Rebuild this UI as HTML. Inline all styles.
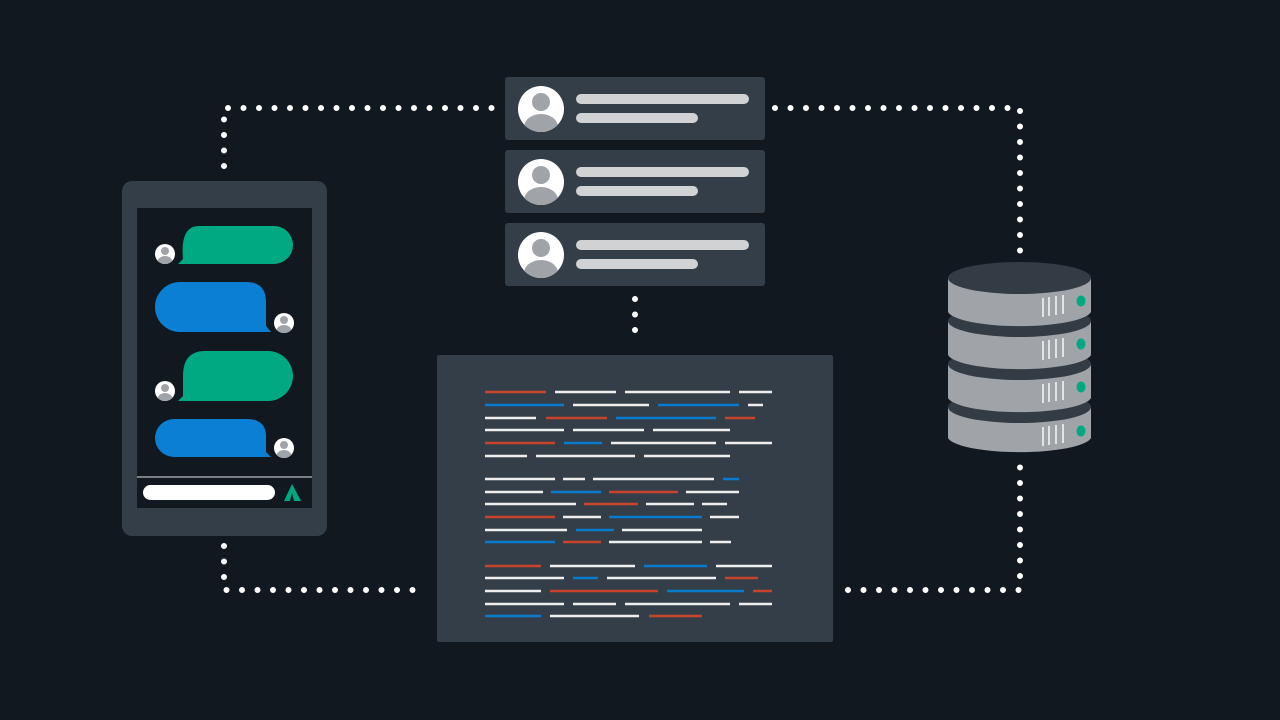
<!DOCTYPE html>
<html><head><meta charset="utf-8"><style>html,body{margin:0;padding:0;background:#111820;}svg{display:block}</style></head>
<body>
<svg width="1280" height="720" viewBox="0 0 1280 720" xmlns="http://www.w3.org/2000/svg">
<defs>
<clipPath id="av"><circle cx="0" cy="0" r="23"/></clipPath>
<clipPath id="avs"><circle cx="0" cy="0" r="10"/></clipPath>
<g id="avatar"><circle r="23" fill="#fff"/><g clip-path="url(#av)"><circle cx="0" cy="-7" r="9" fill="#a0a3a8"/><ellipse cx="0" cy="18" rx="17" ry="13" fill="#a0a3a8"/></g></g>
<g id="savatar"><circle r="10" fill="#fff"/><g clip-path="url(#avs)"><circle cx="0" cy="-3" r="4" fill="#a0a3a8"/><ellipse cx="0" cy="8" rx="7.5" ry="6" fill="#a0a3a8"/></g></g>
</defs>
<rect width="1280" height="720" fill="#111820"/>
<g stroke="#fff" stroke-width="6" stroke-linecap="round" stroke-dasharray="0 15.5" fill="none">
<path d="M224 166 L224 108 L496 108"/>
<path d="M775 108 L1020 108 L1020 251"/>
<path d="M224 546 L224 590 L428 590"/>
<path d="M848 590 L1020 590 L1020 463"/>
<path d="M635 299 L635 344"/>
</g>
<g>
<rect x="505" y="77" width="260" height="63" rx="3" fill="#333e48"/>
<rect x="505" y="150" width="260" height="63" rx="3" fill="#333e48"/>
<rect x="505" y="223" width="260" height="63" rx="3" fill="#333e48"/>
<use href="#avatar" x="541" y="109"/><use href="#avatar" x="541" y="182"/><use href="#avatar" x="541" y="255"/>
<g stroke="#d0d2d4" stroke-width="10" stroke-linecap="round">
<line x1="581" y1="99" x2="744" y2="99"/><line x1="581" y1="118" x2="693" y2="118"/>
<line x1="581" y1="172" x2="744" y2="172"/><line x1="581" y1="191" x2="693" y2="191"/>
<line x1="581" y1="245" x2="744" y2="245"/><line x1="581" y1="264" x2="693" y2="264"/>
</g>
</g>
<rect x="122" y="181" width="205" height="355" rx="10" fill="#333e48"/>
<rect x="137" y="208" width="175" height="300" fill="#111820"/>
<line x1="137" y1="477" x2="312" y2="477" stroke="#a0a3a8" stroke-width="1.5"/>
<rect x="143" y="485" width="132" height="15" rx="7.5" fill="#fff"/>
<polygon points="292,484 284,501 290,501 292,493 294,501 301,501" fill="#00a982"/>
<path d="M199 226 H274 A19 19 0 0 1 274 264 H178 L183 259 Q180 226 199 226 Z" fill="#00a982"/>
<path d="M180 282 H246 Q266 282 266 302 V326 L271 332 H180 A25 25 0 0 1 180 282 Z" fill="#0a7fd4"/>
<path d="M205 351 H268 A25 25 0 0 1 268 401 H178 L183 396 V376 Q183 351 205 351 Z" fill="#00a982"/>
<path d="M174 419 H246 Q266 419 266 436 V452 L271 457 H174 A19 19 0 0 1 174 419 Z" fill="#0a7fd4"/>
<use href="#savatar" x="165" y="254"/><use href="#savatar" x="284" y="323"/>
<use href="#savatar" x="165" y="391"/><use href="#savatar" x="284" y="448"/>
<rect x="437" y="355" width="396" height="287" rx="2" fill="#333e48"/>
<g stroke-width="2.5" fill="none">
<g stroke="#c8432b">
<path d="M485 392H546M485 443H555M546 418H607M725 418H755M609 492H678M584 504H638M485 517H555M563 542H601M485 566H541M725 578H758M550 591H658M753 591H772M649 616H702"/>
</g>
<g stroke="#0a7acc">
<path d="M485 405H564M658 405H739M616 418H716M564 443H602M723 479H739M551 492H601M609 517H702M576 530H614M485 542H555M644 566H707M573 578H598M667 591H744M485 616H541"/>
</g>
<g stroke="#eeeeee">
<path d="M555 392H616M625 392H730M739 392H772M573 405H649M748 405H763M485 418H536M485 430H564M573 430H644M653 430H730M611 443H716M725 443H772M485 456H527M536 456H635M644 456H730"/>
<path d="M485 479H555M563 479H585M593 479H714M485 492H543M686 492H739M485 504H576M646 504H694M702 504H727M563 517H601M710 517H739M485 530H567M622 530H702M609 542H702M710 542H731"/>
<path d="M550 566H635M716 566H772M485 578H564M607 578H716M485 591H541M485 604H564M573 604H616M625 604H730M739 604H772M550 616H639"/>
</g>
</g>
<g>
<path d="M948 407 V438 A72 16 0 0 0 1091 438 V407 Z" fill="#a0a3a8"/><ellipse cx="1019.5" cy="407" rx="71.5" ry="16" fill="#333b44"/>
<path d="M948 364 V398 A72 16 0 0 0 1091 398 V364 Z" fill="#a0a3a8"/><ellipse cx="1019.5" cy="364" rx="71.5" ry="16" fill="#333b44"/>
<path d="M948 321 V355 A72 16 0 0 0 1091 355 V321 Z" fill="#a0a3a8"/><ellipse cx="1019.5" cy="321" rx="71.5" ry="16" fill="#333b44"/>
<path d="M948 278 V312 A72 16 0 0 0 1091 312 V278 Z" fill="#a0a3a8"/><ellipse cx="1019.5" cy="278" rx="71.5" ry="16" fill="#333b44"/>
<g stroke="#e2e3e5" stroke-width="2">
<path d="M1043 298V317M1049 297V316M1056 296V315M1063 295V314"/>
<path d="M1043 341V360M1049 340V359M1056 339V358M1063 338V357"/>
<path d="M1043 384V403M1049 383V402M1056 382V401M1063 381V400"/>
<path d="M1043 427V446M1049 426V445M1056 425V444M1063 424V443"/>
</g>
<g fill="#00a982">
<ellipse cx="1081" cy="301" rx="4.5" ry="5.5"/><ellipse cx="1081" cy="344" rx="4.5" ry="5.5"/>
<ellipse cx="1081" cy="387" rx="4.5" ry="5.5"/><ellipse cx="1081" cy="431" rx="4.5" ry="5.5"/>
</g>
</g>
</svg>
</body></html>
